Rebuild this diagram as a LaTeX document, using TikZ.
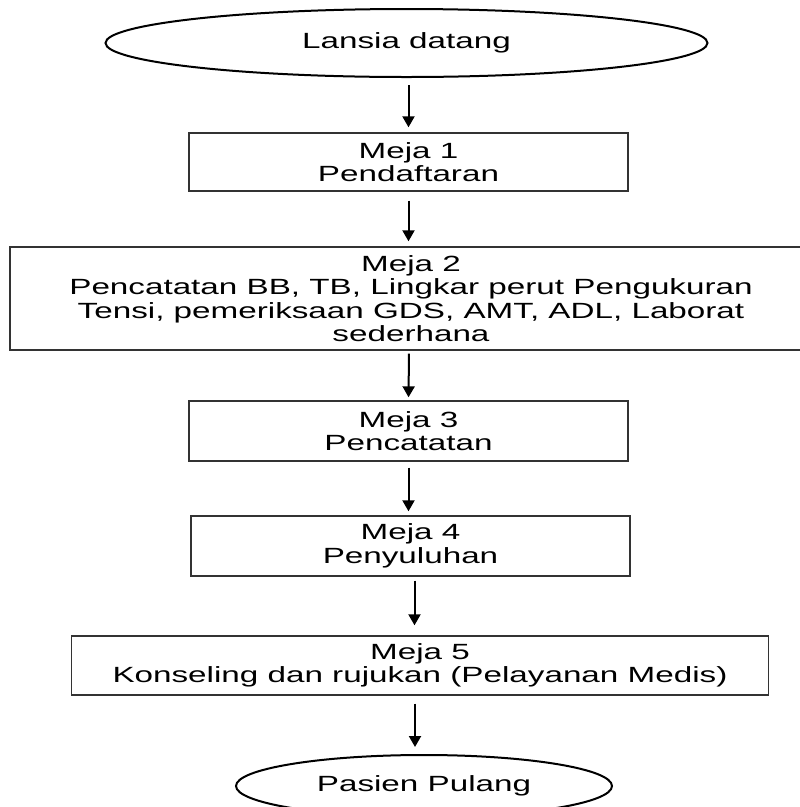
\documentclass[tikz,border=0pt]{standalone}
\usepackage{fontspec}
\setmainfont{Liberation Sans}[FakeStretch=1.51]
\usetikzlibrary{shapes.geometric,arrows.meta}
\begin{document}
\begin{tikzpicture}[x=1pt,y=-1pt,
  every node/.style={font=\fontsize{22}{23.5}\selectfont, align=center, inner sep=0pt},
  stepbox/.style={draw=black!80, line width=1.4pt, rectangle},
  oval/.style={ellipse, draw=black, line width=2pt},
  flow/.style={-{Triangle[width=12pt,length=11pt]}, line width=2pt}]
\useasboundingbox (0,0) rectangle (800,807);
\clip (0,0) rectangle (800,807);

% start and end ovals
\node[oval, minimum width=602pt, minimum height=68pt] (start) at (406.5,43) {Lansia datang};

% the five tables
\node[stepbox, minimum width=439pt, minimum height=58pt] (m1) at (408.5,162) {Meja 1\\Pendaftaran};
\node[stepbox, minimum width=802pt, minimum height=103pt] (m2) at (411,298.5)
  {Meja 2\\Pencatatan BB, TB, Lingkar perut Pengukuran\\Tensi, pemeriksaan GDS, AMT, ADL, Laborat\\sederhana};
\node[stepbox, minimum width=439pt, minimum height=60pt] (m3) at (408.5,431) {Meja 3\\Pencatatan};
\node[stepbox, minimum width=439pt, minimum height=60pt] (m4) at (410.5,546) {Meja 4\\Penyuluhan};
\node[stepbox, minimum width=697pt, minimum height=59pt] (m5) at (420,665.5) {Meja 5\\Konseling dan rujukan (Pelayanan Medis)};

\node[oval, minimum width=376pt, minimum height=62pt] (stop) at (424,786) {Pasien Pulang};

% connectors
\draw[flow, shorten <=7pt, shorten >=5pt] ([xshift=2pt]start.south) -- (m1.north);
\draw[flow, shorten <=9pt, shorten >=5pt] (m1.south) -- ([xshift=-2.5pt]m2.north);
\draw[flow, shorten <=3pt, shorten >=3pt] ([xshift=-2pt]m2.south) -- (m3.north);
\draw[flow, shorten <=6pt, shorten >=4pt] (m3.south) -- ([xshift=-2pt]m4.north);
\draw[flow, shorten <=4pt, shorten >=10pt] ([xshift=4pt]m4.south) -- ([xshift=-5.5pt]m5.north);
\draw[flow, shorten <=8pt, shorten >=7pt] ([xshift=-5pt]m5.south) -- ([xshift=-9pt]stop.north);
\end{tikzpicture}
\end{document}
